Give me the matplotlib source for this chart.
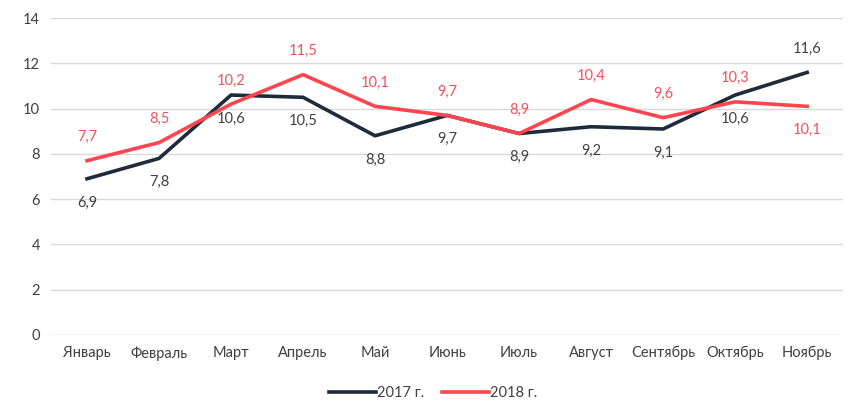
import matplotlib.pyplot as plt

# Данные
months = ["Январь", "Февраль", "Март", "Апрель", "Май", "Июнь", "Июль",
          "Август", "Сентябрь", "Октябрь", "Ноябрь"]
v2017 = [6.9, 7.8, 10.6, 10.5, 8.8, 9.7, 8.9, 9.2, 9.1, 10.6, 11.6]
v2018 = [7.7, 8.5, 10.2, 11.5, 10.1, 9.7, 8.9, 10.4, 9.6, 10.3, 10.1]

c2017 = "#1e2b3a"
c2018 = "#ff4650"

plt.rcParams["font.family"] = ["Lato", "DejaVu Sans"]

fig = plt.figure(figsize=(8.5, 4.11), dpi=100)
ax = fig.add_axes([0.06, 0.185, 0.932, 0.771])

x = list(range(len(months)))
ax.plot(x, v2017, color=c2017, lw=2.6, label="2017 г.", zorder=3)
ax.plot(x, v2018, color=c2018, lw=2.6, label="2018 г.", zorder=3)

# подписи: 2017 снизу, 2018 сверху (кроме последней точки)
for i in x:
    up17 = i == len(x) - 1
    ax.annotate(f"{v2017[i]:.1f}".replace(".", ","), (i, v2017[i]),
                xytext=(0, 12 if up17 else -12), textcoords="offset points",
                ha="center", va="bottom" if up17 else "top",
                fontsize=10.5, color="#404040")
    ax.annotate(f"{v2018[i]:.1f}".replace(".", ","), (i, v2018[i]),
                xytext=(0, -12 if up17 else 12), textcoords="offset points",
                ha="center", va="top" if up17 else "bottom",
                fontsize=10.5, color="#f0535b")

ax.set_xlim(-0.5, len(months) - 0.5)
ax.set_ylim(0, 14)
ax.set_yticks(range(0, 15, 2))
ax.set_xticks(x)
ax.set_xticklabels(months)
ax.tick_params(length=0, labelsize=10.5, colors="#404040", pad=8)
ax.grid(axis="y", color="#d9d9d9", lw=1)
ax.set_axisbelow(True)
for s in ax.spines.values():
    s.set_visible(False)

fig.legend(loc="lower center", ncol=2, frameon=False, fontsize=10.5,
           bbox_to_anchor=(0.51, -0.005), handlelength=3.2,
           handletextpad=0.1, columnspacing=1.2, labelcolor="#404040")

fig.savefig("out.png", dpi=100)
